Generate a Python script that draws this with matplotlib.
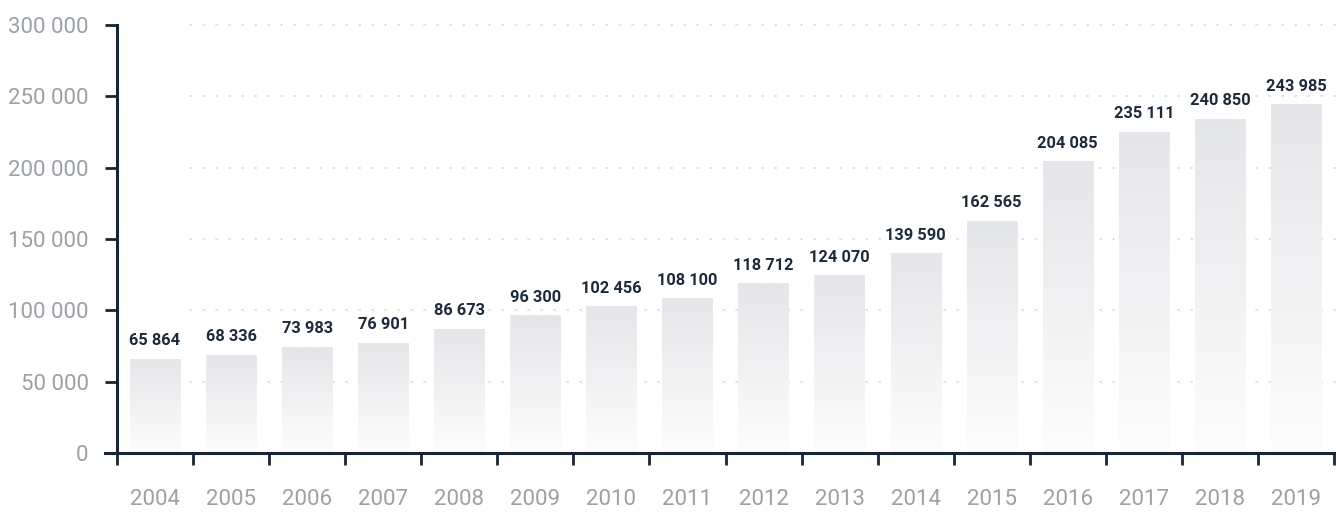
import numpy as np
import matplotlib
matplotlib.use("Agg")
import matplotlib.pyplot as plt

years = ["2004", "2005", "2006", "2007", "2008", "2009", "2010", "2011",
         "2012", "2013", "2014", "2015", "2016", "2017", "2018", "2019"]
# printed values above the bars
labels = [65864, 68336, 73983, 76901, 86673, 96300, 102456, 108100,
          118712, 124070, 139590, 162565, 204085, 235111, 240850, 243985]
# bar heights as drawn in the source (2017/2018 bars sit lower than their labels)
heights = [65864, 68336, 73983, 76901, 86673, 96300, 102456, 108100,
           118712, 124070, 139590, 162565, 204085, 225000, 234100, 243985]
y_ticks = [0, 50000, 100000, 150000, 200000, 250000, 300000]

DARK = "#14263a"
GREY_TXT = "#9ba1a8"

plt.rcParams["font.family"] = ["Roboto", "DejaVu Sans"]

W, H = 1342, 513
fig = plt.figure(figsize=(W / 100, H / 100), dpi=100)
ax = fig.add_axes([117 / W, (H - 453) / H, (1334 - 117) / W, (453 - 25) / H])

n = len(years)
x = np.arange(n)
bw = 0.66

# vertical gradient: light grey at top, fading to white at bottom
grad = np.linspace(1, 0, 256).reshape(-1, 1)
cmap = matplotlib.colors.LinearSegmentedColormap.from_list("g", ["#fdfdfd", "#e5e6e9"])
for xi, h, lab in zip(x, heights, labels):
    ax.imshow(grad, extent=(xi - bw / 2, xi + bw / 2, 0, h), aspect="auto",
              cmap=cmap, vmin=0, vmax=1, zorder=2, interpolation="bilinear")
    ax.annotate(f"{lab:,}".replace(",", " "), (xi, h), xytext=(0, 8),
                textcoords="offset points", ha="center", va="bottom",
                fontsize=11.8, fontweight="bold", color="#1b2a3c", zorder=4)

# dotted grid lines
for t in y_ticks[1:]:
    ax.axhline(t, xmin=0.06, xmax=1.007, color="#d9dbde", lw=1.2,
               ls=(0, (0.8, 7)), dash_capstyle="round", zorder=1, clip_on=False)

ax.set_xlim(-0.5, n - 0.5)
ax.set_ylim(0, 300000)

ax.set_yticks(y_ticks)
ax.set_yticklabels([f"{t:,}".replace(",", " ") for t in y_ticks])
ax.set_xticks(np.arange(-0.5, n, 1.0))
ax.set_xticklabels([])
ax.set_xticks(x, minor=True)
ax.set_xticklabels(years, minor=True)

ax.tick_params(axis="y", direction="out", length=8.5, width=2, color=DARK,
               labelsize=16, labelcolor=GREY_TXT, pad=12)
ax.tick_params(axis="x", which="major", direction="out", length=8.5, width=2,
               color=DARK)
ax.tick_params(axis="x", which="minor", length=0, labelsize=16,
               labelcolor=GREY_TXT, pad=26)

for s in ["top", "right"]:
    ax.spines[s].set_visible(False)
for s in ["left", "bottom"]:
    ax.spines[s].set_color(DARK)
    ax.spines[s].set_linewidth(2.2)
ax.spines["bottom"].set_bounds(-0.66, n - 0.5)
ax.spines["bottom"].set_zorder(5)

fig.savefig("out.png", dpi=100)
